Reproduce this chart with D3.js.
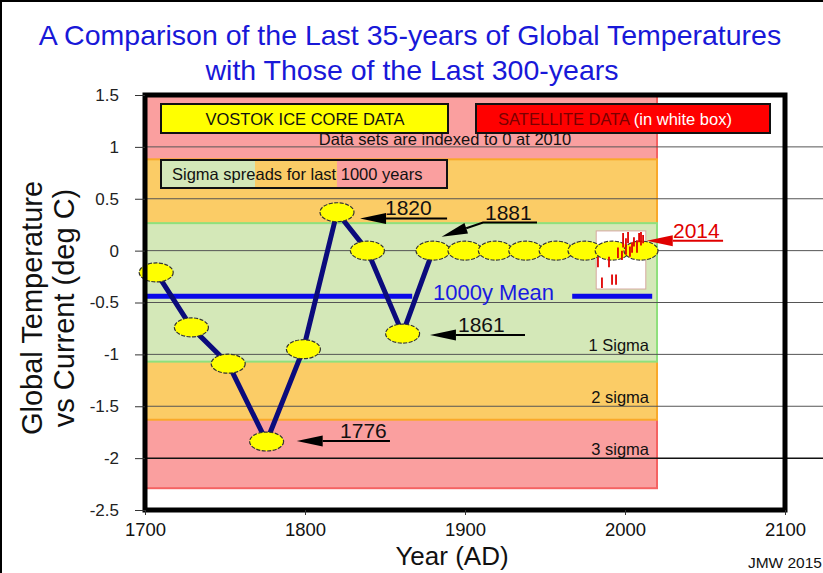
<!DOCTYPE html>
<html>
<head>
<meta charset="utf-8">
<script src="https://cdn.jsdelivr.net/npm/d3@7"></script>
<style>
  body { margin: 0; background: #fff; }
  svg { display: block; font-family: "Liberation Sans", Arial, sans-serif; }
</style>
</head>
<body>
<svg id="chart" width="823" height="573"></svg>
<script>
// vostok ice core points, indexed to 0 at 2010 (deg C)
const vostok_years = [1707, 1729, 1752, 1776, 1799, 1820, 1839, 1861, 1880, 1900, 1919, 1938, 1957, 1975, 1992, 2010];
const vostok_values = [-0.21, -0.74, -1.09, -1.84, -0.95, 0.37, 0.0, -0.8, 0.0, 0.0, 0.0, 0.0, 0.0, 0.0, 0.0, 0.0];

// satellite data, drawn as little ranges inside the white box
const sat_years = [1983.1, 1985.6, 1990, 1991.9, 1994.4, 1995.6, 1998.1, 1998.8, 2000.6, 2001.9, 2003.1, 2004.4, 2005.6, 2007.5, 2008.8, 2010, 2011.3];
const sat_high = [-0.06, -0.26, -0.06, -0.23, -0.23, 0.03, 0.0, 0.17, 0.12, 0.18, 0.04, 0.08, 0.13, 0.10, 0.17, 0.18, 0.15];
const sat_low = [-0.16, -0.36, -0.16, -0.33, -0.33, -0.07, -0.09, 0.03, -0.04, 0.07, -0.06, -0.02, 0.04, -0.02, 0.08, 0.05, 0.07];
const sat_box_years = [1982, 2013];
const sat_box_values = [-0.37, 0.19];

// sigma spreads for the last 1000 years
const band_names = ["3 sigma", "2 sigma", "1 Sigma"];
const band_low = [-2.29, -1.63, -1.07];
const band_high = [1.5, 0.88, 0.265];
const band_label_values = [-2, -1.5, -1];
const band_end_year = 2020;

const mean_value = -0.44;
const mean_starts = [1700, 1967];
const mean_ends = [1867, 2017];
const mean_label_year = 1880;

const x_ticks = [1700, 1800, 1900, 2000, 2100];
const y_ticks = [1.5, 1, 0.5, 0, -0.5, -1, -1.5, -2, -2.5];
const grid_values = [1, 0.5, 0, -0.5, -1, -1.5, -2];

// arrow annotations: points go from the arrow tip to the end of the underline
const ann_labels = ["1820", "1881", "1861", "1776", "2014"];
const ann_points = [
    [[1834.4, 0.31], [1888.8, 0.31]],
    [[1885.4, 0.134], [1911.3, 0.271], [1945, 0.271]],
    [[1878.1, -0.813], [1937.5, -0.813]],
    [[1794.8, -1.835], [1853.1, -1.835]],
    [[2013.6, 0.096], [2061.3, 0.096]]
];
const ann_text_years = [1850, 1912.5, 1895.6, 1821.9, 2030];

// colors
let pink = "#fa9f9f";
let orange = "#fbcc66";
let light_green = "#d4e8b8";
let band_fills = [pink, orange, light_green];
let band_edges = ["#f56262", "#f9a92a", "#8fe07c"];
let navy = "#0b0b7c";
let title_blue = "#1818d8";

const svg = d3.select("#chart");

const xScale = d3.scaleLinear().domain([1700, 2100]).range([145, 785]);
const yScale = d3.scaleLinear().domain([-2.5, 1.5]).range([510, 95]);

// outer picture border
svg.append("line").attr("x1", 1).attr("x2", 1).attr("y1", 0).attr("y2", 573).attr("stroke", "#000").attr("stroke-width", 2);
svg.append("line").attr("x1", 0).attr("x2", 823).attr("y1", 1).attr("y2", 1).attr("stroke", "#000").attr("stroke-width", 2);

// title
const title = svg.append("text")
    .attr("text-anchor", "middle")
    .attr("fill", title_blue)
    .style("font-size", "28.5px");
title.append("tspan").attr("x", 410).attr("y", 45).text("A Comparison of the Last 35-years of Global Temperatures");
title.append("tspan").attr("x", 412).attr("y", 80).text("with Those of the Last 300-years");

// sigma bands
const bands = svg.append("g");
band_names.forEach(function(name, i) {
    bands.append("rect")
        .attr("x", xScale(1700))
        .attr("y", yScale(band_high[i]))
        .attr("width", xScale(band_end_year) - xScale(1700))
        .attr("height", yScale(band_low[i]) - yScale(band_high[i]))
        .attr("fill", band_fills[i])
        .attr("stroke", band_edges[i])
        .attr("stroke-width", 2);
});

// satellite white box
svg.append("rect")
    .attr("x", xScale(sat_box_years[0]))
    .attr("y", yScale(sat_box_values[1]))
    .attr("width", xScale(sat_box_years[1]) - xScale(sat_box_years[0]))
    .attr("height", yScale(sat_box_values[0]) - yScale(sat_box_values[1]))
    .attr("fill", "#fff")
    .attr("stroke", "#d6a8a0")
    .attr("stroke-width", 1);

// grid lines, they run out past the frame to the right
svg.append("g").selectAll("line")
    .data(grid_values)
    .join("line")
    .attr("x1", xScale(1700))
    .attr("x2", 823)
    .attr("y1", d => yScale(d))
    .attr("y2", d => yScale(d))
    .attr("stroke", d => d === -2 ? "#111" : "#555")
    .attr("stroke-width", d => d === -2 ? 1.5 : 1);

// sigma labels
band_names.forEach(function(name, i) {
    svg.append("text")
        .attr("x", xScale(band_end_year) - 8)
        .attr("y", yScale(band_label_values[i]) - 3)
        .attr("text-anchor", "end")
        .attr("fill", "#111")
        .style("font-size", "16.5px")
        .text(name);
});

// legend boxes
svg.append("rect").attr("x", 161).attr("y", 104).attr("width", 287).attr("height", 29)
    .attr("fill", "#ffff00").attr("stroke", "#111").attr("stroke-width", 2);
svg.append("text").attr("x", 305).attr("y", 125).attr("text-anchor", "middle")
    .attr("fill", "#111").style("font-size", "16.5px").text("VOSTOK ICE CORE DATA");

svg.append("rect").attr("x", 476).attr("y", 104).attr("width", 294).attr("height", 29)
    .attr("fill", "#ff0000").attr("stroke", "#111").attr("stroke-width", 2);
const sat_text = svg.append("text").attr("x", 615).attr("y", 125).attr("text-anchor", "middle")
    .style("font-size", "16.5px");
sat_text.append("tspan").attr("fill", "#7a0000").text("SATELLITE DATA ");
sat_text.append("tspan").attr("fill", "#fff").text("(in white box)");

svg.append("text").attr("x", 445).attr("y", 145).attr("text-anchor", "middle")
    .attr("fill", "#111").style("font-size", "16.5px").text("Data sets are indexed to 0 at 2010");

const legend_cuts = [161, 255, 337, 447];
band_fills.slice().reverse().forEach(function(c, i) {
    svg.append("rect")
        .attr("x", legend_cuts[i]).attr("y", 160)
        .attr("width", legend_cuts[i + 1] - legend_cuts[i]).attr("height", 28)
        .attr("fill", c);
});
svg.append("rect").attr("x", 161).attr("y", 160).attr("width", 286).attr("height", 28)
    .attr("fill", "none").attr("stroke", "#111").attr("stroke-width", 2);
svg.append("text").attr("x", 172).attr("y", 180)
    .attr("fill", "#111").style("font-size", "16.5px").text("Sigma spreads for last 1000 years");

// 1000 year mean
mean_starts.forEach(function(s, i) {
    svg.append("line")
        .attr("x1", xScale(s)).attr("x2", xScale(mean_ends[i]))
        .attr("y1", yScale(mean_value)).attr("y2", yScale(mean_value))
        .attr("stroke", "#0a0ae8").attr("stroke-width", 5);
});
svg.append("text")
    .attr("x", xScale(mean_label_year)).attr("y", yScale(mean_value) + 4)
    .attr("fill", "#1a1ae0").style("font-size", "22px")
    .text("1000y Mean");

// vostok line and points
const vostok = vostok_years.map((d, i) => ({year: d, value: vostok_values[i]}));

const line_generator = d3.line()
    .x(d => xScale(d.year))
    .y(d => yScale(d.value));

svg.append("path")
    .attr("d", line_generator(vostok.slice(0, 9)))
    .attr("fill", "none")
    .attr("stroke", navy)
    .attr("stroke-width", 5)
    .attr("stroke-linejoin", "round");

svg.append("g").selectAll("ellipse")
    .data(vostok)
    .join("ellipse")
    .attr("cx", d => xScale(d.year))
    .attr("cy", d => yScale(d.value))
    .attr("rx", 17)
    .attr("ry", 9.5)
    .attr("fill", "#ffff00")
    .attr("stroke", "#333")
    .attr("stroke-width", 1.2)
    .attr("stroke-dasharray", "4,1.5");

// satellite ranges on top of the points
svg.append("g").selectAll("line")
    .data(sat_years)
    .join("line")
    .attr("x1", d => xScale(d))
    .attr("x2", d => xScale(d))
    .attr("y1", (d, i) => yScale(sat_high[i]))
    .attr("y2", (d, i) => yScale(sat_low[i]))
    .attr("stroke", "#e00000")
    .attr("stroke-width", 1.8);

// arrows with underlined years
ann_labels.forEach(function(label, i) {
    let color = label === "2014" ? "#e00000" : "#000";
    let pts = ann_points[i].map(p => [xScale(p[0]), yScale(p[1])]);
    let tip = pts[0];
    let next = pts[1];
    let dx = next[0] - tip[0];
    let dy = next[1] - tip[1];
    let len = Math.sqrt(dx * dx + dy * dy);
    let ux = dx / len;
    let uy = dy / len;
    let head = 26;
    let half = 5.5;
    let base = [tip[0] + ux * head, tip[1] + uy * head];

    svg.append("path")
        .attr("d", d3.line()([base].concat(pts.slice(1))))
        .attr("fill", "none")
        .attr("stroke", color)
        .attr("stroke-width", 2);

    svg.append("path")
        .attr("d", d3.line()([
            tip,
            [base[0] - uy * half, base[1] + ux * half],
            [base[0] + uy * half, base[1] - ux * half]
        ]) + "Z")
        .attr("fill", color);

    let last = ann_points[i][ann_points[i].length - 1];
    svg.append("text")
        .attr("x", xScale(ann_text_years[i]))
        .attr("y", yScale(last[1]) - 3)
        .attr("fill", label === "2014" ? "#e00000" : "#111")
        .style("font-size", "21px")
        .text(label);
});

// frame around the plot
svg.append("rect")
    .attr("x", xScale(1700))
    .attr("y", yScale(1.5))
    .attr("width", xScale(2100) - xScale(1700))
    .attr("height", yScale(-2.5) - yScale(1.5))
    .attr("fill", "none")
    .attr("stroke", "#000")
    .attr("stroke-width", 5);

// axes
const yAxis = svg.append("g")
    .attr("transform", `translate(${xScale(1700)},0)`)
    .call(d3.axisLeft(yScale).tickValues(y_ticks).tickSize(10).tickPadding(16).tickFormat(d => String(d)));
yAxis.select(".domain").remove();
yAxis.selectAll("text").style("font-size", "17px").style("font-family", "Liberation Sans, Arial, sans-serif").attr("fill", "#222");
yAxis.selectAll("line").attr("stroke", "#333");

const xAxis = svg.append("g")
    .attr("transform", `translate(0,${yScale(-2.5)})`)
    .call(d3.axisBottom(xScale).tickValues(x_ticks).tickSize(5).tickPadding(8).tickFormat(d => String(d)));
xAxis.select(".domain").remove();
xAxis.selectAll("text").style("font-size", "18.5px").style("font-family", "Liberation Sans, Arial, sans-serif").attr("fill", "#111");
xAxis.selectAll("line").attr("stroke", "#333");

// axis titles
svg.append("text")
    .attr("x", 452).attr("y", 565)
    .attr("text-anchor", "middle")
    .attr("fill", "#111")
    .style("font-size", "26px")
    .text("Year (AD)");

const yTitle = svg.append("text")
    .attr("transform", "translate(0,308) rotate(-90)")
    .attr("text-anchor", "middle")
    .attr("fill", "#111")
    .style("font-size", "29px");
yTitle.append("tspan").attr("x", 0).attr("y", 42).text("Global Temperature");
yTitle.append("tspan").attr("x", 0).attr("y", 74).text("vs Current (deg C)");

svg.append("text")
    .attr("x", 822).attr("y", 568)
    .attr("text-anchor", "end")
    .attr("fill", "#111")
    .style("font-size", "15.5px")
    .text("JMW 2015");
</script>
</body>
</html>
